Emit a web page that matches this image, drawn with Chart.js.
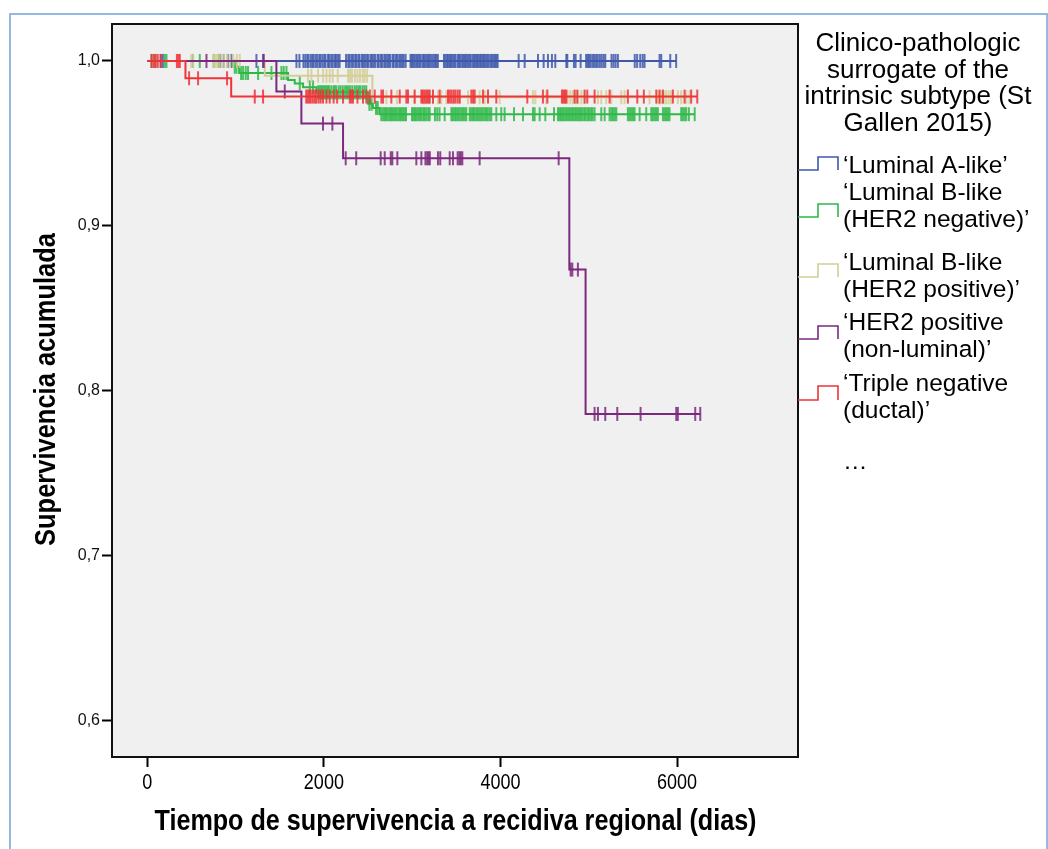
<!DOCTYPE html>
<html>
<head>
<meta charset="utf-8">
<script src="https://cdn.jsdelivr.net/npm/chart.js@4.4.0/dist/chart.umd.min.js"></script>
<style>
  html, body { margin: 0; padding: 0; background: #fff; overflow: hidden; }
  #frame { position: absolute; left: 9px; top: 13px; width: 1035px; height: 850px; border: 2px solid #95b7e0; border-bottom: none; }
  #km { position: absolute; left: 0; top: 0; }
</style>
</head>
<body>
<div id="frame"></div>
<canvas id="km" width="1048" height="849"></canvas>
<script>
// axis ticks
const xTicks = [0, 2000, 4000, 6000];
const yTicks = [0.6, 0.7, 0.8, 0.9, 1.0];

const xTitle = 'Tiempo de supervivencia a recidiva regional (dias)';
const yTitle = 'Supervivencia acumulada';

const legendTitle = ['Clinico-pathologic', 'surrogate of the', 'intrinsic subtype (St', 'Gallen 2015)'];
const subtypeLabels = [
  ['‘Luminal A-like’'],
  ['‘Luminal B-like', '(HER2 negative)’'],
  ['‘Luminal B-like', '(HER2 positive)’'],
  ['‘HER2 positive', '(non-luminal)’'],
  ['‘Triple negative', '(ductal)’']
];
const subtypeColors = ['#3e58ac', '#2eb848', '#d3ce97', '#7c287d', '#ef3338'];

// Kaplan-Meier steps: event times and survival after each event
const lumA_t = [0];
const lumA_s = [1.0];
const lumBneg_t = [0, 971, 1040, 1594, 1670, 1764, 1915, 2500, 2555, 2632];
const lumBneg_s = [1.0, 0.9965, 0.9927, 0.9885, 0.9864, 0.984, 0.981, 0.974, 0.9715, 0.9677];
const lumBpos_t = [0, 1330, 2549];
const lumBpos_s = [1.0, 0.991, 0.978];
const her2_t = [0, 1462, 1745, 2217, 4780, 4964];
const her2_s = [1.0, 0.9815, 0.962, 0.941, 0.8735, 0.786];
const triple_t = [0, 432, 950];
const triple_s = [1.0, 0.9895, 0.9784];

// censored follow-up times (days)
const lumA_cens = [153, 176, 821, 866, 911, 953, 1236, 1311, 1689, 1723, 1768, 1790, 1812, 1826, 1851, 1870,
  1884, 1907, 1925, 1948, 1961, 1983, 2004, 2019, 2047, 2060, 2083, 2101, 2126, 2139, 2161, 2178, 2251, 2276,
  2290, 2312, 2329, 2354, 2368, 2391, 2405, 2432, 2447, 2466, 2489, 2503, 2528, 2544, 2563, 2580, 2607, 2621,
  2645, 2660, 2684, 2699, 2718, 2736, 2752, 2779, 2791, 2815, 2830, 2853, 2871, 2888, 2904, 2926, 2981, 2997,
  3012, 3030, 3049, 3063, 3081, 3096, 3119, 3134, 3152, 3170, 3186, 3201, 3222, 3240, 3259, 3273, 3291, 3360,
  3377, 3395, 3410, 3427, 3441, 3458, 3476, 3490, 3514, 3530, 3545, 3566, 3581, 3597, 3612, 3631, 3648, 3663,
  3685, 3701, 3718, 3734, 3749, 3768, 3782, 3801, 3815, 3833, 3850, 3866, 3887, 3903, 3921, 3938, 3955, 3968,
  4206, 4274, 4425, 4489, 4538, 4583, 4621, 4746, 4757, 4832, 4851, 4908, 4970, 4988, 5003, 5022, 5044, 5061,
  5083, 5102, 5125, 5146, 5168, 5187, 5258, 5281, 5304, 5330, 5521, 5548, 5583, 5611, 5632, 5802, 5821, 5923, 5990];
const lumBneg_cens = [47, 85, 198, 217, 515, 594, 752, 810, 990, 1010, 1062, 1085, 1115, 1141, 1255, 1406, 1519,
  1545, 1576, 1727, 1840, 1877, 1935, 1950, 1968, 1981, 1999, 2014, 2032, 2046, 2061, 2085, 2110, 2124, 2140,
  2168, 2190, 2214, 2240, 2262, 2281, 2300, 2323, 2350, 2371, 2392, 2410, 2436, 2458, 2480, 2515, 2540, 2590,
  2610, 2650, 2671, 2690, 2704, 2722, 2741, 2757, 2772, 2790, 2807, 2824, 2843, 2861, 2876, 2895, 2913, 2930,
  2998, 3016, 3032, 3051, 3069, 3088, 3105, 3126, 3141, 3160, 3182, 3198, 3258, 3284, 3310, 3368, 3444, 3461,
  3481, 3497, 3519, 3539, 3558, 3576, 3596, 3613, 3652, 3669, 3689, 3705, 3725, 3744, 3762, 3781, 3800, 3821,
  3838, 3856, 3877, 3896, 3953, 4009, 4047, 4153, 4255, 4368, 4387, 4444, 4508, 4606, 4651, 4669, 4684, 4701,
  4717, 4736, 4752, 4771, 4786, 4806, 4821, 4841, 4857, 4876, 4892, 4911, 4929, 4949, 4965, 4986, 5003, 5026,
  5044, 5066, 5142, 5180, 5236, 5256, 5274, 5295, 5312, 5443, 5463, 5480, 5501, 5519, 5576, 5651, 5708, 5726,
  5746, 5763, 5783, 5840, 5859, 5876, 5897, 5915, 6047, 6066, 6086, 6104, 6134, 6200];
const lumBpos_cens = [497, 520, 745, 768, 790, 815, 842, 870, 905, 938, 975, 1015, 1047, 1821, 1859, 1934, 1991,
  2029, 2066, 2100, 2157, 2274, 2296, 2318, 2351, 2380, 2409, 2441, 2463, 2490, 2708, 2827, 3028, 3123, 3146,
  3170, 3198, 3236, 3292, 3330, 3387, 3462, 3538, 3632, 3764, 3821, 3991, 4368, 4395, 4519, 4727, 4760, 4791,
  4820, 4851, 4880, 4915, 4953, 5104, 5142, 5198, 5255, 5368, 5406, 5689, 5779, 5801, 5826, 5850, 5876, 5905,
  5934, 6009, 6047, 6104, 6142];
const her2_cens = [670, 1319, 1557, 1990, 2096, 2247, 2366, 2643, 2689, 2757, 2775, 2832, 3047, 3104, 3150, 3170,
  3185, 3200, 3292, 3318, 3425, 3462, 3515, 3535, 3550, 3568, 3764, 4659, 4795, 4814, 4877, 5066, 5104, 5187,
  5323, 5587, 5991, 6009, 6206, 6263];
const triple_cens = [48, 72, 95, 118, 150, 335, 352, 368, 473, 575, 903, 1217, 1311, 1800, 1818, 1836, 1852,
  1875, 1898, 1915, 1940, 1963, 1990, 2029, 2066, 2110, 2150, 2217, 2293, 2310, 2330, 2380, 2443, 2481, 2520,
  2576, 2651, 2670, 2764, 2859, 2934, 2953, 3028, 3104, 3120, 3140, 3160, 3180, 3198, 3236, 3311, 3406, 3425,
  3445, 3470, 3490, 3515, 3538, 3670, 3690, 3708, 3802, 3859, 3953, 4304, 4481, 4531, 4696, 4712, 4730, 4746,
  4840, 4870, 4953, 4983, 5066, 5236, 5443, 5550, 5624, 5765, 5802, 5840, 5953, 6085, 6160, 6229];

const curves = [
  { t: lumA_t, s: lumA_s, cens: lumA_cens },
  { t: lumBneg_t, s: lumBneg_s, cens: lumBneg_cens },
  { t: lumBpos_t, s: lumBpos_s, cens: lumBpos_cens },
  { t: her2_t, s: her2_s, cens: her2_cens },
  { t: triple_t, s: triple_s, cens: triple_cens }
];

const regular = "'Liberation Sans', Arial, sans-serif";

function survAt(times, surv, t) {
  let s = surv[0];
  for (let i = 0; i < times.length; i++) {
    if (times[i] <= t) s = surv[i];
  }
  return s;
}

function withAlpha(hex, a) {
  const n = parseInt(hex.slice(1), 16);
  return 'rgba(' + (n >> 16) + ',' + ((n >> 8) & 255) + ',' + (n & 255) + ',' + a + ')';
}

// no narrow face installed, so squeeze the text horizontally instead
function narrowText(ctx, text, x, y, font, squeeze, rotate) {
  ctx.save();
  ctx.translate(x, y);
  if (rotate) ctx.rotate(-Math.PI / 2);
  ctx.font = font;
  ctx.scale(squeeze, 1);
  ctx.textAlign = 'center';
  ctx.textBaseline = 'middle';
  ctx.fillText(text, 0, 0);
  ctx.restore();
}

function fitWidth(ctx, text, font, width) {
  ctx.save();
  ctx.font = font;
  const w = ctx.measureText(text).width;
  ctx.restore();
  return width / w;
}

const datasets = [];
curves.forEach((c, i) => {
  const last = c.s[c.s.length - 1];
  const end = Math.max(c.t[c.t.length - 1], ...c.cens);
  const pts = c.t.map((t, k) => ({ x: t, y: c.s[k] }));
  pts.push({ x: end, y: last });
  datasets.push({
    type: 'line',
    label: subtypeLabels[i].join(' '),
    data: pts,
    stepped: true,
    borderColor: subtypeColors[i],
    borderWidth: 2,
    pointRadius: 0,
    fill: false,
    order: 20 - 2 * i
  });
  // censor marks sit on the curve at their time
  datasets.push({
    type: 'scatter',
    label: subtypeLabels[i].join(' ') + ' censored',
    data: c.cens.map(t => ({ x: t, y: survAt(c.t, c.s, t) })),
    pointStyle: 'line',
    pointRotation: 90,
    pointRadius: 7,
    pointHoverRadius: 7,
    pointBorderColor: withAlpha(subtypeColors[i], 0.85),
    pointBorderWidth: 2,
    order: 19 - 2 * i
  });
});

const plotFrame = {
  id: 'plotFrame',
  beforeDraw(chart) {
    const { ctx, chartArea: a } = chart;
    ctx.save();
    ctx.fillStyle = '#f0f0f0';
    ctx.fillRect(a.left, a.top, a.right - a.left, a.bottom - a.top);
    ctx.restore();
  },
  afterDraw(chart) {
    const { ctx, chartArea: a } = chart;
    ctx.save();
    ctx.strokeStyle = '#111';
    ctx.lineWidth = 2;
    ctx.strokeRect(a.left, a.top, a.right - a.left, a.bottom - a.top);
    ctx.restore();
  }
};

// x tick labels and both axis titles in a condensed bold face
const axisText = {
  id: 'axisText',
  afterDraw(chart) {
    const { ctx, scales: { x, y } } = chart;
    ctx.save();
    ctx.fillStyle = '#000';
    xTicks.forEach(v => narrowText(ctx, String(v), x.getPixelForValue(v), 783, '22px ' + regular, 0.82, false));
    const tf = 'bold 30px ' + regular;
    narrowText(ctx, xTitle, (x.left + x.right) / 2 + 0.5, 822, tf, fitWidth(ctx, xTitle, tf, 602), false);
    narrowText(ctx, yTitle, 47, (y.top + y.bottom) / 2 - 1, tf, fitWidth(ctx, yTitle, tf, 313), true);
    ctx.restore();
  }
};

// legend with step-shaped keys, to the right of the plot
const stepLegend = {
  id: 'stepLegend',
  afterDraw(chart) {
    const { ctx, chartArea: a } = chart;
    ctx.save();
    ctx.fillStyle = '#000';
    ctx.textBaseline = 'middle';
    ctx.font = '26px ' + regular;
    ctx.textAlign = 'center';
    legendTitle.forEach((line, k) => ctx.fillText(line, 918, 44 + k * 26.6));

    const rows = [
      { y: 166, key: [157, 170] },
      { y: 193, key: [204, 217] },
      { y: 263, key: [264, 277] },
      { y: 323, key: [326, 339] },
      { y: 384, key: [386, 400] }
    ];
    ctx.textAlign = 'left';
    ctx.font = '24.5px ' + regular;
    rows.forEach((r, i) => {
      const x0 = a.right;
      ctx.strokeStyle = subtypeColors[i];
      ctx.lineWidth = 1.6;
      ctx.beginPath();
      ctx.moveTo(x0, r.key[1]);
      ctx.lineTo(x0 + 20, r.key[1]);
      ctx.lineTo(x0 + 20, r.key[0]);
      ctx.lineTo(x0 + 40, r.key[0]);
      ctx.lineTo(x0 + 40, r.key[1]);
      ctx.stroke();
      subtypeLabels[i].forEach((line, k) => ctx.fillText(line, 843, r.y + k * 27));
    });
    ctx.fillText('…', 843, 462);
    ctx.restore();
  }
};

new Chart(document.getElementById('km'), {
  type: 'line',
  data: { datasets },
  options: {
    responsive: false,
    animation: false,
    events: [],
    layout: { padding: { left: 0, right: 250, top: 24, bottom: 0 } },
    plugins: { legend: { display: false }, tooltip: { enabled: false } },
    scales: {
      x: {
        type: 'linear',
        min: -400,
        max: 7370,
        afterBuildTicks: s => { s.ticks = xTicks.map(v => ({ value: v })); },
        afterFit: s => { s.height = 92; },
        grid: { drawOnChartArea: false, drawTicks: true, tickLength: 10, tickColor: '#000', tickWidth: 2 },
        border: { display: false },
        ticks: { display: false }
      },
      y: {
        type: 'linear',
        min: 0.578,
        max: 1.0224,
        afterBuildTicks: s => { s.ticks = yTicks.map(v => ({ value: v })); },
        afterFit: s => { s.width = 112; },
        grid: { drawOnChartArea: false, drawTicks: true, tickLength: 10, tickColor: '#000', tickWidth: 2 },
        border: { display: false },
        ticks: { color: '#111', padding: 2, font: { family: regular, size: 16 }, callback: v => v.toFixed(1).replace('.', ',') }
      }
    }
  },
  plugins: [plotFrame, axisText, stepLegend]
});
</script>
</body>
</html>
